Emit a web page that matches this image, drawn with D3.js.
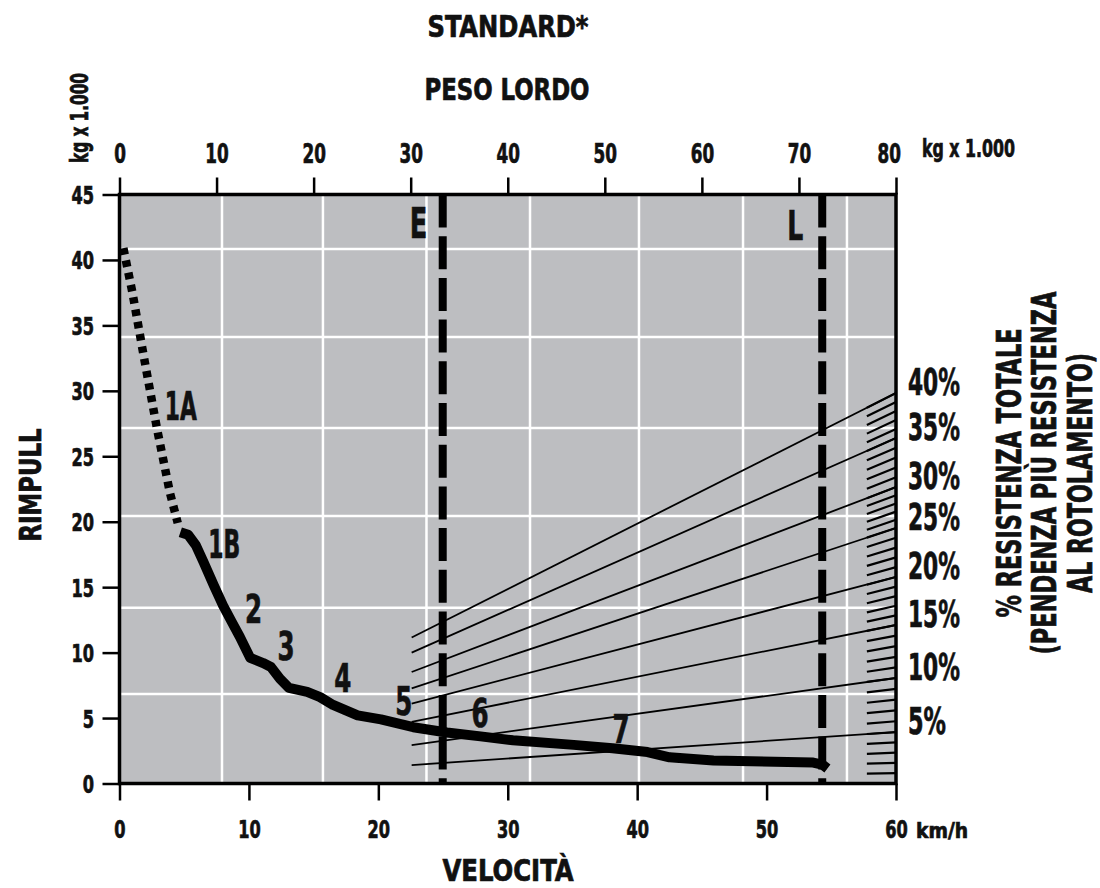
<!DOCTYPE html>
<html>
<head>
<meta charset="utf-8">
<script src="https://d3js.org/d3.v7.min.js"></script>
<style>
body { margin: 0; background: #fff; }
svg text {
    font-family: "Liberation Sans Narrow", "DejaVu Sans Condensed", "Roboto Condensed", sans-serif;
    font-weight: bold;
    fill: #111;
    stroke: #111;
    stroke-width: 0.7px;
}
</style>
</head>
<body>
<svg id="chart" width="1100" height="888"></svg>
<script>
// axis ticks
let speedTicks = [0, 10, 20, 30, 40, 50, 60];          // km/h
let rimpullTicks = [0, 5, 10, 15, 20, 25, 30, 35, 40, 45]; // kg x 1.000
let weightTicks = [0, 10, 20, 30, 40, 50, 60, 70, 80];  // kg x 1.000

// white grid of the chart (not on tick values)
let gridSpeed = [7.92, 15.72, 23.72, 31.72, 40.14, 48.18, 56.21];
let gridRimpull = [6.84, 13.43, 20.44, 27.16, 34.11, 40.84];

// empty / loaded gross weight
let weightE = 33.3;
let weightL = 72.4;

// rimpull curve, gear 1A (dotted)
let curve1ASpeed = [0.3, 1.0, 1.9, 2.9, 3.9, 4.5];
let curve1ARimpull = [40.9, 37.5, 32.5, 27.1, 22.2, 19.9];

// rimpull curve, gears 1B..7
let curveSpeed = [4.7, 5.3, 5.9, 6.5, 7.3, 8.0, 8.7, 9.3, 10.1, 11.1, 11.7, 12.4, 13.1, 14.5, 15.5,
    16.5, 18.4, 20.2, 22.7, 25.3, 27.9, 30.4, 35.1, 38.1, 40.8, 42.5, 45.9, 53.6, 54.3, 54.7];
let curveRimpull = [19.2, 19.0, 18.2, 16.9, 15.1, 13.6, 12.3, 11.2, 9.6, 9.2, 8.9, 8.0, 7.3, 7.0, 6.6,
    6.0, 5.2, 4.9, 4.3, 3.9, 3.6, 3.3, 2.95, 2.7, 2.4, 2.0, 1.75, 1.6, 1.45, 1.15];

// gear labels
let gearLabels = ['1A', '1B', '2', '3', '4', '5', '6', '7'];
let gearLabelSpeed = [3.5, 6.85, 9.7, 12.2, 16.6, 21.3, 27.2, 38.1];
let gearLabelRimpull = [27.8, 17.2, 12.3, 9.4, 7.0, 5.2, 4.3, 3.1];

// total resistance lines (rimpull at start weight / at 80 t)
let gradeValues = [5, 10, 15, 20, 25, 30, 35, 40];
let gradeLabels = ['5%', '10%', '15%', '20%', '25%', '30%', '35%', '40%'];
let gradeStartWeight = 30.1;
let gradeEndWeight = 80;
let gradeStartRimpull = [1.41, 2.94, 4.7, 6.11, 7.26, 8.52, 10.0, 11.15];
let gradeEndRimpull = [3.93, 8.06, 12.11, 15.78, 19.52, 22.65, 26.4, 29.83];
let hatchStartWeight = 77;

let svg = d3.select('#chart');

let plotLeft = 119.5, plotRight = 896, plotTop = 194.5, plotBottom = 783.5;
let digitSqueeze = 0.72;

let xSpeed = d3.scaleLinear().domain([0, 60]).range([plotLeft, plotRight]);
let xWeight = d3.scaleLinear().domain([0, 80]).range([plotLeft, plotRight]);
let yRimpull = d3.scaleLinear().domain([0, 45]).range([plotBottom, plotTop]);

function addText(g, str, x, y, size, opts) {
    opts = opts || {};
    let tf = 'translate(' + x + ',' + y + ')';
    if (opts.rotate) tf += ' rotate(' + opts.rotate + ')';
    if (opts.sx) tf += ' scale(' + opts.sx + ',1)';
    let t = g.append('text')
        .attr('transform', tf)
        .attr('font-size', size)
        .attr('text-anchor', opts.anchor || 'start')
        .text(str);
    if (opts.len) t.attr('textLength', opts.len).attr('lengthAdjust', 'spacingAndGlyphs');
    return t;
}

// plot background
svg.append('rect')
    .attr('x', plotLeft).attr('y', plotTop)
    .attr('width', plotRight - plotLeft).attr('height', plotBottom - plotTop)
    .attr('fill', '#bdbec1');

// white grid
let grid = svg.append('g').attr('class', 'grid')
    .attr('stroke', '#fff').attr('stroke-width', 2.5);
grid.selectAll('line.gx').data(gridSpeed).enter().append('line')
    .attr('class', 'gx')
    .attr('x1', function(d) { return xSpeed(d); }).attr('x2', function(d) { return xSpeed(d); })
    .attr('y1', plotTop).attr('y2', plotBottom);
grid.selectAll('line.gy').data(gridRimpull).enter().append('line')
    .attr('class', 'gy')
    .attr('x1', plotLeft).attr('x2', plotRight)
    .attr('y1', function(d) { return yRimpull(d); }).attr('y2', function(d) { return yRimpull(d); });

// resistance lines
let grades = svg.append('g').attr('class', 'grades').attr('stroke', '#000');
grades.selectAll('line.grade').data(gradeValues).enter().append('line')
    .attr('class', 'grade')
    .attr('stroke-width', 1.8)
    .attr('x1', xWeight(gradeStartWeight))
    .attr('y1', function(d, i) { return yRimpull(gradeStartRimpull[i]); })
    .attr('x2', xWeight(gradeEndWeight))
    .attr('y2', function(d, i) { return yRimpull(gradeEndRimpull[i]); });

// 1% hatches along the right edge
let gradeScale = d3.scaleLinear()
    .domain([0].concat(gradeValues))
    .range([0].concat(gradeEndRimpull));
grades.selectAll('line.hatch').data(d3.range(1, 41)).enter().append('line')
    .attr('class', 'hatch')
    .attr('stroke-width', 2.2)
    .attr('x1', xWeight(hatchStartWeight))
    .attr('y1', function(d) { return yRimpull(gradeScale(d) * hatchStartWeight / gradeEndWeight); })
    .attr('x2', xWeight(gradeEndWeight))
    .attr('y2', function(d) { return yRimpull(gradeScale(d)); });

// E and L weight lines
svg.selectAll('line.weight').data([weightE, weightL]).enter().append('line')
    .attr('class', 'weight')
    .attr('x1', function(d) { return xWeight(d); }).attr('x2', function(d) { return xWeight(d); })
    .attr('y1', plotTop).attr('y2', plotBottom)
    .attr('stroke', '#000').attr('stroke-width', 8)
    .attr('stroke-dasharray', '33,8.7');

// rimpull curve
let line = d3.line()
    .x(function(d) { return xSpeed(d[0]); })
    .y(function(d) { return yRimpull(d[1]); });

svg.append('path')
    .datum(d3.zip(curve1ASpeed, curve1ARimpull))
    .attr('d', line)
    .attr('fill', 'none').attr('stroke', '#000')
    .attr('stroke-width', 8.5)
    .attr('stroke-dasharray', '6.5,6');

svg.append('path')
    .datum(d3.zip(curveSpeed, curveRimpull))
    .attr('d', line)
    .attr('fill', 'none').attr('stroke', '#000')
    .attr('stroke-width', 10)
    .attr('stroke-linejoin', 'round');

// frame
svg.append('rect')
    .attr('x', plotLeft).attr('y', plotTop)
    .attr('width', plotRight - plotLeft).attr('height', plotBottom - plotTop)
    .attr('fill', 'none').attr('stroke', '#000').attr('stroke-width', 3.5);

// axes
function styleAxis(g, size) {
    g.attr('font-family', null).attr('font-size', null);
    g.select('.domain').remove();
    g.selectAll('.tick line').attr('stroke', '#000').attr('stroke-width', 2.5);
    g.selectAll('.tick text')
        .attr('font-size', size)
        .attr('fill', '#111')
        .attr('transform', 'scale(' + digitSqueeze + ',1)');
}

let axisTopG = svg.append('g')
    .attr('transform', 'translate(0,' + plotTop + ')')
    .call(d3.axisTop(xWeight).tickValues(weightTicks).tickSize(17).tickPadding(14.5).tickFormat(d3.format('d')));
styleAxis(axisTopG, 26);
axisTopG.selectAll('.tick text').filter(function(d) { return d === 80; }).attr('dx', -10);

let axisBottomG = svg.append('g')
    .attr('transform', 'translate(0,' + plotBottom + ')')
    .call(d3.axisBottom(xSpeed).tickValues(speedTicks).tickSize(17).tickFormat(d3.format('d')));
styleAxis(axisBottomG, 25);
axisBottomG.selectAll('.tick text').attr('y', 54.5).attr('dy', 0);

let axisLeftG = svg.append('g')
    .attr('transform', 'translate(' + plotLeft + ',0)')
    .call(d3.axisLeft(yRimpull).tickValues(rimpullTicks).tickSize(17).tickFormat(d3.format('d')));
styleAxis(axisLeftG, 25);
axisLeftG.selectAll('.tick text').attr('x', -25.5 / digitSqueeze).attr('dy', 9);

// titles
let labels = svg.append('g').attr('class', 'labels');
addText(labels, 'STANDARD*', 508, 37, 31, { anchor: 'middle', len: 161 });
addText(labels, 'PESO LORDO', 507, 100, 31, { anchor: 'middle', len: 165 });
addText(labels, 'VELOCITÀ', 508, 881, 30, { anchor: 'middle', len: 131 });
addText(labels, 'RIMPULL', 41, 485, 31, { anchor: 'middle', rotate: -90, len: 113 });
addText(labels, 'kg x 1.000', 88, 163, 24, { rotate: -90, len: 90 });
addText(labels, 'kg x 1.000', 922, 157, 24, { len: 93 });
addText(labels, 'km/h', 916, 838, 21, { len: 52 });

addText(labels, 'E', xWeight(weightE) - 33, 238, 42, { sx: 0.68 });
addText(labels, 'L', xWeight(weightL) - 35, 240, 41, { sx: 0.68 });

// gear labels
gearLabels.forEach(function(s, i) {
    let opts = s.length > 1 ? { len: 32 } : { sx: 0.7 };
    addText(labels, s, xSpeed(gearLabelSpeed[i]), yRimpull(gearLabelRimpull[i]), 39, opts);
});

// resistance labels
gradeLabels.forEach(function(s, i) {
    addText(labels, s, 908, yRimpull(gradeEndRimpull[i]) + 2, 37, { len: s.length > 2 ? 52 : 38 });
});

addText(labels, '% RESISTENZA TOTALE', 1021, 473, 34, { anchor: 'middle', rotate: -90, len: 289 });
addText(labels, '(PENDENZA PIÙ RESISTENZA', 1056, 473, 34, { anchor: 'middle', rotate: -90, len: 363 });
addText(labels, 'AL ROTOLAMENTO)', 1092, 473, 34, { anchor: 'middle', rotate: -90, len: 240 });
</script>
</body>
</html>
